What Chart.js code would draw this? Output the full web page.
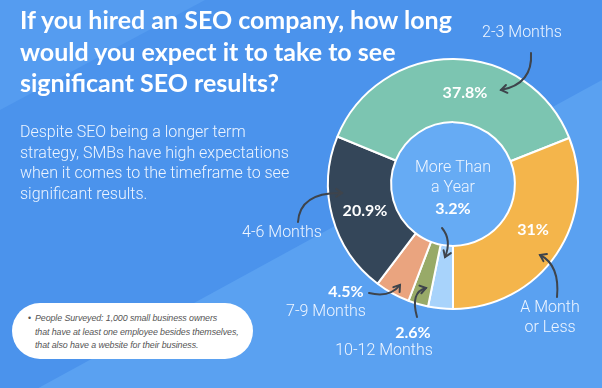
<!DOCTYPE html>
<html>
<head>
<meta charset="utf-8">
<script src="https://cdn.jsdelivr.net/npm/chart.js@4/dist/chart.umd.min.js"></script>
<style>
  html, body { margin: 0; padding: 0; width: 602px; height: 388px; overflow: hidden; }
  #wrap { position: relative; width: 602px; height: 388px; }
  canvas { position: absolute; left: 0; top: 0; }
  .title {
    position: absolute; left: 20px; top: 4px; width: 470px; white-space: nowrap;
    font-family: Lato, sans-serif; font-weight: 700; font-size: 25px;
    line-height: 31.5px; color: #fff;
  }
  .sub {
    position: absolute; left: 20px; top: 122px; width: 320px; white-space: nowrap;
    font-family: Roboto, sans-serif; font-weight: 300; font-size: 16px;
    line-height: 20.5px; color: #eef5ff;
  }
  .note {
    position: absolute; left: 12px; top: 303px; width: 241px; height: 56px;
    background: #fff; border-radius: 28px; box-sizing: border-box;
    padding: 9px 0 0 23px; white-space: nowrap;
    font-family: "Liberation Sans", sans-serif; font-style: italic; font-size: 8.9px;
    line-height: 13.5px; color: #555; letter-spacing: -0.1px;
  }
  .note .b { position: absolute; left: 16px; top: 9px; font-style: normal; }
</style>
</head>
<body>
<div id="wrap">
  <canvas id="chart" width="602" height="388"></canvas>
  <div class="title">If you hired an SEO company, how long<br>would you expect it to take to see<br>significant SEO results?</div>
  <div class="sub">Despite SEO being a longer term<br>strategy, SMBs have high expectations<br>when it comes to the timeframe to see<br>significant results.</div>
  <div class="note"><span class="b">•</span>People Surveyed: 1,000 small business owners<br>that have at least one employee besides themselves,<br>that also have a website for their business.</div>
</div>
<script>
// clockwise from the bottom of the ring
const labels = ['More Than a Year', '10-12 Months', '7-9 Months', '4-6 Months', '2-3 Months', 'A Month or Less'];
const values = [3.2, 2.6, 4.5, 20.9, 37.8, 31];
const colors = ['#a8d3fb', '#98aa68', '#eaa47f', '#344659', '#7cc5b1', '#f4b54b'];

// annotation layout, offsets from the ring centre
const notes = [
  { pct: [0, 25], name: [[0, -16, 'More Than'], [0, 4, 'a Year']], arrow: [[-11, 44], [-1, 56], [-8, 73]] },
  { pct: [-40, 149], name: [[-69, 167, '10-12 Months']], arrow: [[-36, 133], [-43, 108], [-27, 104]] },
  { pct: [-107, 108], name: [[-127, 128, '7-9 Months']], arrow: [[-84, 109], [-63, 114], [-53, 101]] },
  { pct: [-88, 27], name: [[-171, 49, '4-6 Months']], arrow: [[-155, 38], [-153, 8], [-111, 9]] },
  { pct: [12, -91], name: [[69, -151, '2-3 Months']], arrow: [[78, -131], [80, -100], [48, -94]] },
  { pct: [80, 46], name: [[97, 124, 'A Month'], [97, 144, 'or Less']], arrow: [[104, 113], [107, 81], [87, 71]] }
];

function ringCentre(chart) {
  const arc = chart.getDatasetMeta(0).data[0];
  return arc ? { x: arc.x, y: arc.y, inner: arc.innerRadius, outer: arc.outerRadius } : null;
}

const decor = {
  id: 'decor',
  beforeDraw(chart) {
    const ctx = chart.ctx;
    const w = chart.width, h = chart.height;
    ctx.save();
    ctx.fillStyle = '#4b93ec';
    ctx.fillRect(0, 0, w, h);
    ctx.fillStyle = '#5aa1f1';
    ctx.beginPath();
    ctx.moveTo(0, 409); ctx.lineTo(w, 80); ctx.lineTo(w, h); ctx.lineTo(0, h);
    ctx.closePath(); ctx.fill();
    ctx.fillStyle = '#559cf0';
    ctx.beginPath();
    ctx.moveTo(0, 0); ctx.lineTo(205, 0); ctx.lineTo(0, 110);
    ctx.closePath(); ctx.fill();
    ctx.restore();
  },
  beforeDatasetsDraw(chart) {
    const c = ringCentre(chart);
    if (!c) return;
    const ctx = chart.ctx;
    ctx.save();
    ctx.fillStyle = '#66abf4';
    ctx.beginPath();
    ctx.arc(c.x, c.y, c.inner, 0, Math.PI * 2);
    ctx.fill();
    ctx.restore();
  },
  afterDatasetsDraw(chart) {
    const c = ringCentre(chart);
    if (!c) return;
    const ctx = chart.ctx;
    ctx.save();
    ctx.textAlign = 'center';
    ctx.textBaseline = 'middle';
    notes.forEach((n, i) => {
      ctx.fillStyle = '#ffffff';
      ctx.font = 'bold 16px Lato, sans-serif';
      ctx.fillText(values[i] + '%', c.x + n.pct[0], c.y + n.pct[1]);
      ctx.fillStyle = '#eef5ff';
      ctx.font = '300 16px Roboto, sans-serif';
      n.name.forEach(t => ctx.fillText(t[2], c.x + t[0], c.y + t[1]));

      // curved arrow
      const [p0, p1, p2] = n.arrow.map(p => [c.x + p[0], c.y + p[1]]);
      ctx.strokeStyle = '#3e444c';
      ctx.lineWidth = 2;
      ctx.lineCap = 'round';
      ctx.beginPath();
      ctx.moveTo(p0[0], p0[1]);
      ctx.quadraticCurveTo(p1[0], p1[1], p2[0], p2[1]);
      ctx.stroke();
      const ang = Math.atan2(p2[1] - p1[1], p2[0] - p1[0]);
      const len = 7;
      ctx.beginPath();
      ctx.moveTo(p2[0] - len * Math.cos(ang - 0.6), p2[1] - len * Math.sin(ang - 0.6));
      ctx.lineTo(p2[0], p2[1]);
      ctx.lineTo(p2[0] - len * Math.cos(ang + 0.6), p2[1] - len * Math.sin(ang + 0.6));
      ctx.stroke();
    });
    ctx.restore();
  }
};

new Chart(document.getElementById('chart'), {
  type: 'doughnut',
  data: {
    labels: labels,
    datasets: [{
      data: values,
      backgroundColor: colors,
      borderColor: '#ffffff',
      borderWidth: 2
    }]
  },
  options: {
    responsive: false,
    animation: false,
    devicePixelRatio: 1,
    rotation: 180,
    cutout: '49.5%',
    layout: { padding: { left: 327, right: 23, top: 58, bottom: 78 } },
    plugins: {
      legend: { display: false },
      tooltip: { enabled: false }
    }
  },
  plugins: [decor]
});
</script>
</body>
</html>
